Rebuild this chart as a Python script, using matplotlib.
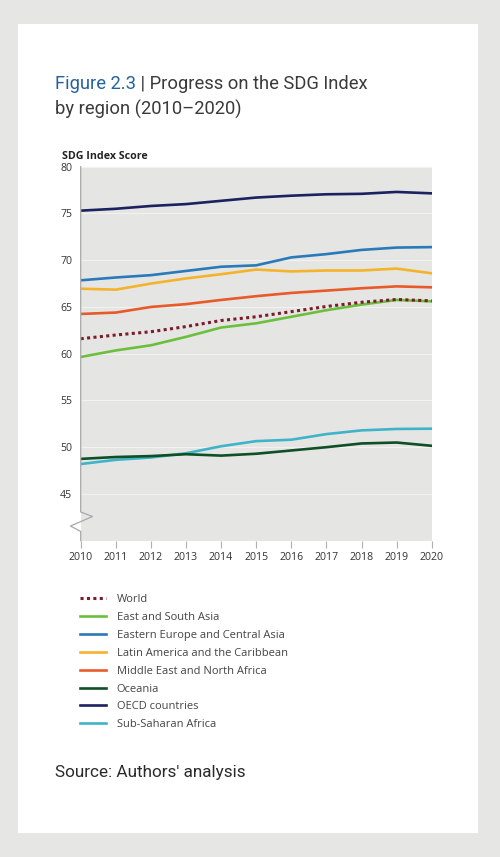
import matplotlib
matplotlib.use("Agg")
import matplotlib.pyplot as plt
from matplotlib.lines import Line2D
from matplotlib.patches import Rectangle

years = [2010, 2011, 2012, 2013, 2014, 2015, 2016, 2017, 2018, 2019, 2020]

world = [61.6, 62.0, 62.35, 62.9, 63.55, 63.95, 64.5, 65.05, 65.5, 65.8, 65.65]
east_south_asia = [59.65, 60.35, 60.9, 61.8, 62.8, 63.25, 63.95, 64.65, 65.25, 65.75, 65.6]
eastern_europe_central_asia = [67.85, 68.15, 68.4, 68.85, 69.3, 69.45, 70.3, 70.65, 71.1, 71.35, 71.4]
latin_america_caribbean = [66.95, 66.85, 67.5, 68.05, 68.5, 69.0, 68.8, 68.9, 68.9, 69.1, 68.6]
middle_east_north_africa = [64.25, 64.4, 65.0, 65.3, 65.75, 66.15, 66.5, 66.75, 67.0, 67.2, 67.1]
oceania = [48.75, 48.95, 49.05, 49.25, 49.1, 49.3, 49.65, 50.0, 50.4, 50.5, 50.15]
oecd = [75.3, 75.5, 75.8, 76.0, 76.35, 76.7, 76.9, 77.05, 77.1, 77.3, 77.15]
sub_saharan_africa = [48.2, 48.65, 48.9, 49.35, 50.1, 50.65, 50.8, 51.4, 51.8, 51.95, 51.98]

series_labels = ["World", "East and South Asia", "Eastern Europe and Central Asia",
                 "Latin America and the Caribbean", "Middle East and North Africa",
                 "Oceania", "OECD countries", "Sub-Saharan Africa"]
series_values = [world, east_south_asia, eastern_europe_central_asia, latin_america_caribbean,
                 middle_east_north_africa, oceania, oecd, sub_saharan_africa]
series_colors = ["#7a1c2b", "#6cbf3c", "#2a7ab9", "#f4b32a", "#e85a2a", "#0f4f25", "#1c2160", "#3fb4c9"]

y_ticks = [45, 50, 55, 60, 65, 70, 75, 80]

W, H = 500, 857
fig = plt.figure(figsize=(W / 100, H / 100), dpi=100)
fig.patch.set_facecolor("#e6e7e5")

def fx(x):
    return x / W

def fy(y):
    return 1 - y / H

# white panel
fig.add_artist(Rectangle((fx(18), fy(833)), (478 - 18) / W, (833 - 24) / H,
                         transform=fig.transFigure, facecolor="white", edgecolor="none", zorder=0))

# axes
left, right, top, bottom = 80.7, 431.7, 166.7, 540.7
ax = fig.add_axes([fx(left), fy(bottom), (right - left) / W, (bottom - top) / H])
ax.set_facecolor("#e5e6e4")
ax.set_xlim(2010, 2020)
ax.set_ylim(40, 80)
for s in ax.spines.values():
    s.set_visible(False)
ax.set_yticks(y_ticks)
ax.set_yticklabels([str(t) for t in y_ticks])
ax.set_xticks(years)
ax.set_xticklabels([str(y) for y in years])
for lab in ax.get_xticklabels() + ax.get_yticklabels():
    lab.set_fontfamily("Open Sans")
    lab.set_fontsize(7.6)
    lab.set_color("#333333")
ax.tick_params(axis="y", length=0, pad=6)
ax.tick_params(axis="x", length=5, width=0.8, color="#b0b0b0", pad=3)
ax.grid(axis="y", color="#f2f2f1", linewidth=0.8)
ax.set_axisbelow(True)

draw_order = [7, 5, 1, 2, 3, 4, 6, 0]
for i in draw_order:
    if i == 0:
        ax.plot(years, series_values[i], color=series_colors[i], lw=2.2,
                linestyle=(0, (1, 1.1)), dash_capstyle="butt", zorder=5)
    else:
        ax.plot(years, series_values[i], color=series_colors[i], lw=1.9,
                solid_joinstyle="round", zorder=3)

# left spine with axis break
pts = [(80.7, 166.7), (80.7, 512), (92.5, 516.5), (70.5, 526), (80.7, 531.5), (80.7, 540.7)]
fig.add_artist(Line2D([fx(p[0]) for p in pts], [fy(p[1]) for p in pts],
                      transform=fig.transFigure, color="#a8a8a8", lw=0.9, zorder=10))

# axis title
fig.text(fx(62), fy(159), "SDG Index Score", family="Open Sans", weight="bold",
         fontsize=7.7, color="#222222", va="baseline", ha="left")

# title
t1 = fig.text(fx(55), fy(89.3), "Figure 2.3", family="Roboto", fontsize=13.2,
              color="#2461a0", va="baseline", ha="left")
fig.canvas.draw()
r = fig.canvas.get_renderer()
bb = t1.get_window_extent(renderer=r)
fig.text(bb.x1 / W, fy(89.3), " | Progress on the SDG Index", family="Roboto",
         fontsize=13.2, color="#3a3a3a", va="baseline", ha="left")
fig.text(fx(55), fy(114.5), "by region (2010\u20132020)", family="Roboto", fontsize=13.2,
         color="#3a3a3a", va="baseline", ha="left")

# legend
row0, step = 598.3, 17.85
for i, lab in enumerate(series_labels):
    yy = row0 + i * step
    if i == 0:
        ln = Line2D([fx(80), fx(106)], [fy(yy), fy(yy)], transform=fig.transFigure,
                    color=series_colors[i], lw=2.2, linestyle=(0, (1, 1.1)), dash_capstyle="butt")
    else:
        ln = Line2D([fx(80), fx(106)], [fy(yy), fy(yy)], transform=fig.transFigure,
                    color=series_colors[i], lw=1.9)
    fig.add_artist(ln)
    fig.text(fx(116.7), fy(yy), lab, family="Open Sans", fontsize=8.0, color="#444444",
             va="center_baseline", ha="left")

fig.text(fx(55), fy(777), "Source: Authors' analysis", family="Roboto", fontsize=12.3,
         color="#2a2a2a", va="baseline", ha="left")

fig.savefig("out.png", dpi=100, facecolor=fig.get_facecolor())
